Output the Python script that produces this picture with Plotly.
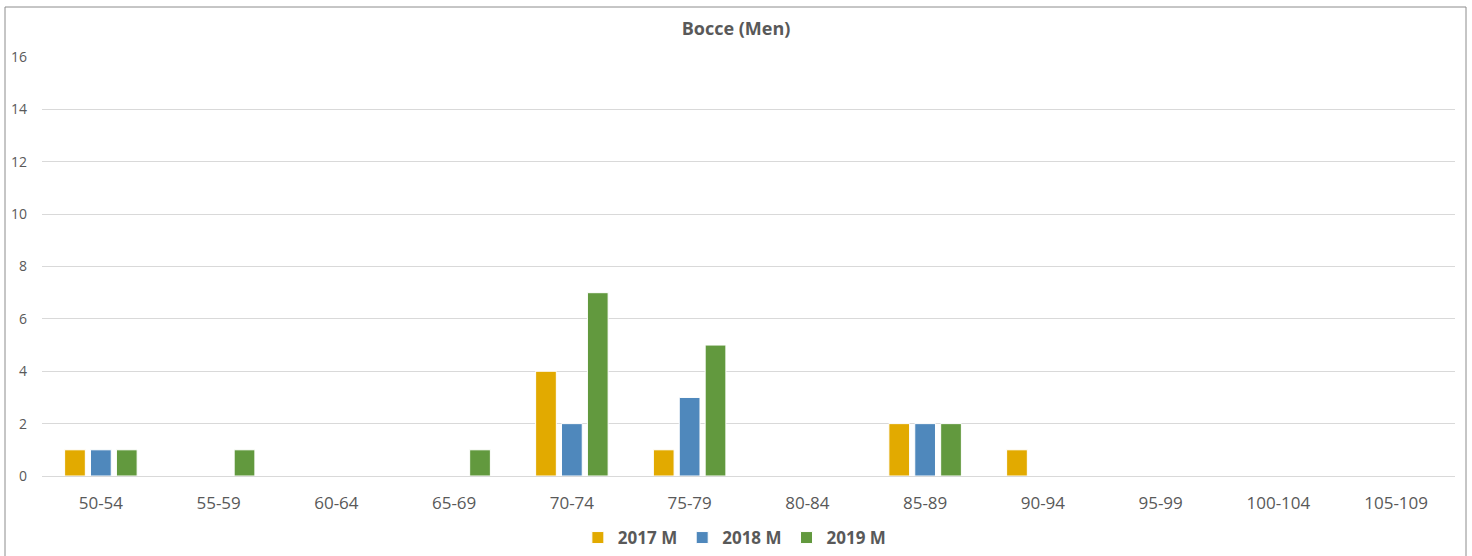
import plotly.graph_objects as go

categories = ["50-54", "55-59", "60-64", "65-69", "70-74", "75-79", "80-84",
              "85-89", "90-94", "95-99", "100-104", "105-109"]
s2017 = [1, 0, 0, 0, 4, 1, 0, 2, 1, 0, 0, 0]
s2018 = [1, 0, 0, 0, 2, 3, 0, 2, 0, 0, 0, 0]
s2019 = [1, 1, 0, 1, 7, 5, 0, 2, 0, 0, 0, 0]
series_names = ["2017 M", "2018 M", "2019 M"]
colors = ["#E2AA00", "#4F88BC", "#62993E"]

W, H = 1472, 556
L, R, T, B = 42, 17, 57, 80
pw, ph = W - L - R, H - T - B

fig = go.Figure()
for name, vals, c in zip(series_names, [s2017, s2018, s2019], colors):
    fig.add_trace(go.Bar(x=categories, y=vals, name="<b>" + name + "</b>",
                         marker=dict(color=c, line=dict(color="white", width=1))))

font = "Open Sans, Liberation Sans, sans-serif"
fig.update_layout(
    width=W, height=H,
    margin=dict(l=L, r=R, t=T, b=B, autoexpand=False),
    plot_bgcolor="white", paper_bgcolor="white",
    barmode="group", bargap=0.34, bargroupgap=0.2,
    title=dict(text="<b>Bocce (Men)</b>", x=0.5, xanchor="center",
               y=1 - 29 / H, yanchor="middle",
               font=dict(family=font, size=18, color="#595959")),
    legend=dict(orientation="h", x=0.49, xanchor="center",
                y=(T + ph - 538) / ph, yanchor="middle",
                font=dict(family=font, size=17, color="#595959"),
                traceorder="normal"),
    xaxis=dict(showgrid=False, showline=True, linecolor="#D9D9D9", linewidth=1,
               tickfont=dict(family=font, size=17, color="#595959"),
               ticklabelstandoff=12),
    yaxis=dict(range=[0, 16], dtick=2, showgrid=True, gridcolor="#D9D9D9",
               gridwidth=1, zeroline=False, showline=False,
               tickfont=dict(family=font, size=14, color="#595959"),
               ticklabelstandoff=14),
    shapes=[dict(type="rect", xref="paper", yref="paper",
                 x0=(5 - L) / pw, x1=(1466 - L) / pw,
                 y0=(T + ph - 565) / ph, y1=(T + ph - 7) / ph,
                 line=dict(color="#8C8C8C", width=1), fillcolor="rgba(0,0,0,0)",
                 layer="below")],
)

fig.write_html("out.html", config={"displayModeBar": False},
               post_script="document.body.style.margin='0';document.body.style.overflow='hidden';")
